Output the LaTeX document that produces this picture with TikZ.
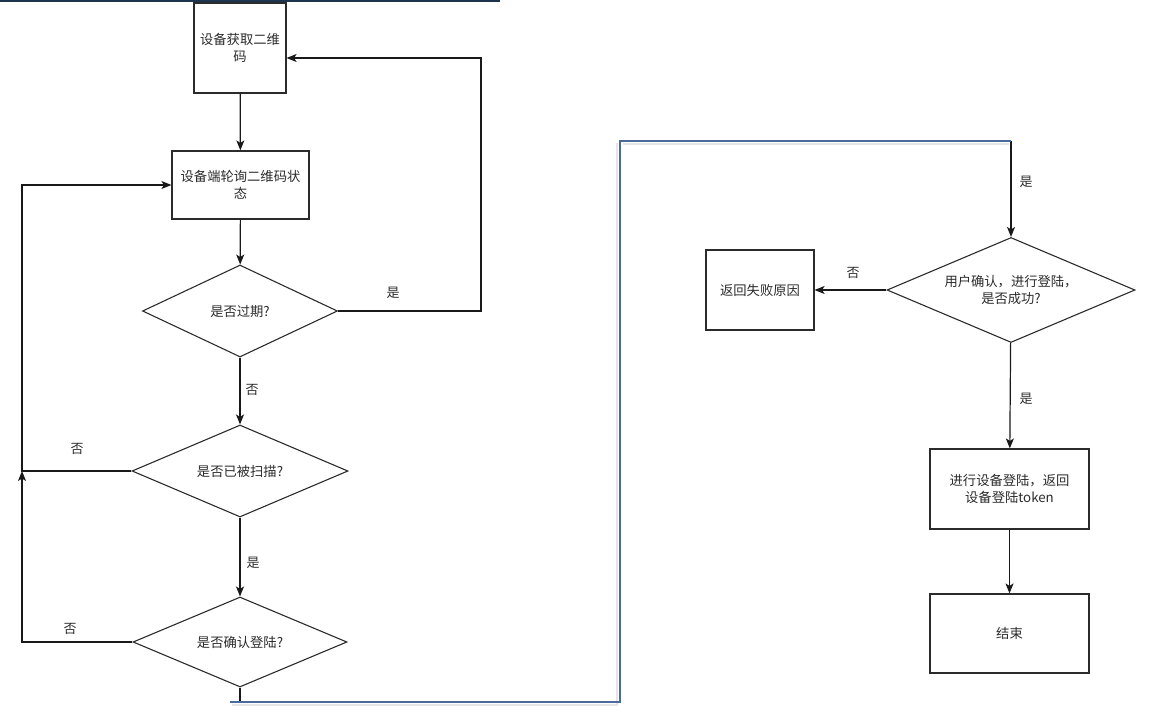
\documentclass[tikz,border=0pt]{standalone}
\usepackage{fontspec}
\setmainfont{Noto Sans CJK SC}
\usetikzlibrary{shapes.geometric,arrows.meta}
\definecolor{inkgray}{HTML}{2B2B2B}
\definecolor{framenavy}{HTML}{1E3350}
\definecolor{frameblue}{HTML}{4A6A9C}
\tikzset{
  stepbox/.style={draw=inkgray, line width=1.2pt, inner sep=0pt, align=center},
  choice/.style={diamond, draw=inkgray, line width=1.1pt, inner sep=0pt, aspect=2.4, align=center},
  flow/.style={draw=black!90, line width=1.2pt, -{Stealth[length=10pt,width=8pt,inset=2.5pt]}},
  plain/.style={draw=black!90, line width=1.2pt},
  tag/.style={font=\fontsize{13}{15}\selectfont, text=inkgray},
}
\begin{document}
\begin{tikzpicture}[x=1pt, y=-1pt, font=\fontsize{13.3}{16.5}\selectfont, text=inkgray]
  \useasboundingbox (0,0) rectangle (1169,714);

  % ---- left column: fetch and poll the code ----
  \node[stepbox, minimum width=92pt, minimum height=90pt] (get) at (240,48)
       {设备获取二维\\码};
  \node[stepbox, minimum width=137pt, minimum height=68pt] (poll) at (240.5,185)
       {设备端轮询二维码状\\态};
  \node[choice, minimum width=195pt, minimum height=92pt] (expired) at (240,311)
       {是否过期?};
  \node[choice, minimum width=216pt, minimum height=92pt] (scanned) at (240,471)
       {是否已被扫描?};
  \node[choice, minimum width=214pt, minimum height=90pt] (confirm) at (240,642)
       {是否确认登陆?};

  % ---- right column: the actual login ----
  \node[choice, minimum width=248pt, minimum height=105pt] (login) at (1011,290)
       {用户确认，进行登陆，\\是否成功?};
  \node[stepbox, minimum width=108pt, minimum height=80pt] (fail) at (760,290)
       {返回失败原因};
  \node[stepbox, minimum width=159pt, minimum height=80pt] (token) at (1009.5,489)
       {进行设备登陆，返回\\设备登陆token};
  \node[stepbox, minimum width=159pt, minimum height=79pt] (finish) at (1009.5,633.5)
       {结束};

  % ---- turning points of the loops ----
  \coordinate (rloop) at (481,0);
  \coordinate (lloop) at (22,0);
  \coordinate (drop)  at (240,702);
  \coordinate (jump)  at (1011,141);

  % ---- connectors ----
  \draw[flow] (get) -- (poll);
  \draw[flow] (poll) -- (expired);
  \draw[flow] (expired.east) -- (expired.east -| rloop)
              -- ([yshift=-10pt]get.east -| rloop) -- ([yshift=-10pt]get.east);
  \draw[flow] (expired) -- (scanned);
  \draw[flow] (scanned.west) -- (scanned.west -| lloop)
              -- (poll.west -| lloop) -- (poll.west);
  \draw[flow] (scanned) -- (confirm);
  \draw[flow] (confirm.west) -- (confirm.west -| lloop) -- (scanned.west -| lloop);
  \draw[plain] (confirm.south) -- (drop);
  \draw[flow] (jump) -- (login.north);
  \draw[flow] (login.west) -- (fail.east);
  \draw[flow] (login) -- (token);
  \draw[flow] (token) -- (finish);

  % ---- branch labels ----
  \node[tag] (yes1) at (393,293) {是};
  \node[tag] (no1)  at (252,390) {否};
  \node[tag] (no2)  at (77,449)  {否};
  \node[tag] (yes2) at (253,563) {是};
  \node[tag] (no3)  at (70,629)  {否};
  \node[tag] (yes3) at (1026,182) {是};
  \node[tag] (no4)  at (853,273) {否};
  \node[tag] (yes4) at (1026,399) {是};

  % ---- the two screenshots are joined by this frame line ----
  \draw[black!10, line width=2pt] (232,705) -- (617,705) -- (617,143);
  \draw[black!10, line width=2pt] (623,144) -- (1009,144);
  \draw[frameblue, line width=1.8pt] (230,702) -- (620,702) -- (620,141) -- (jump);
  \draw[framenavy, line width=2pt] (0,1) -- (500,1);
\end{tikzpicture}
\end{document}
